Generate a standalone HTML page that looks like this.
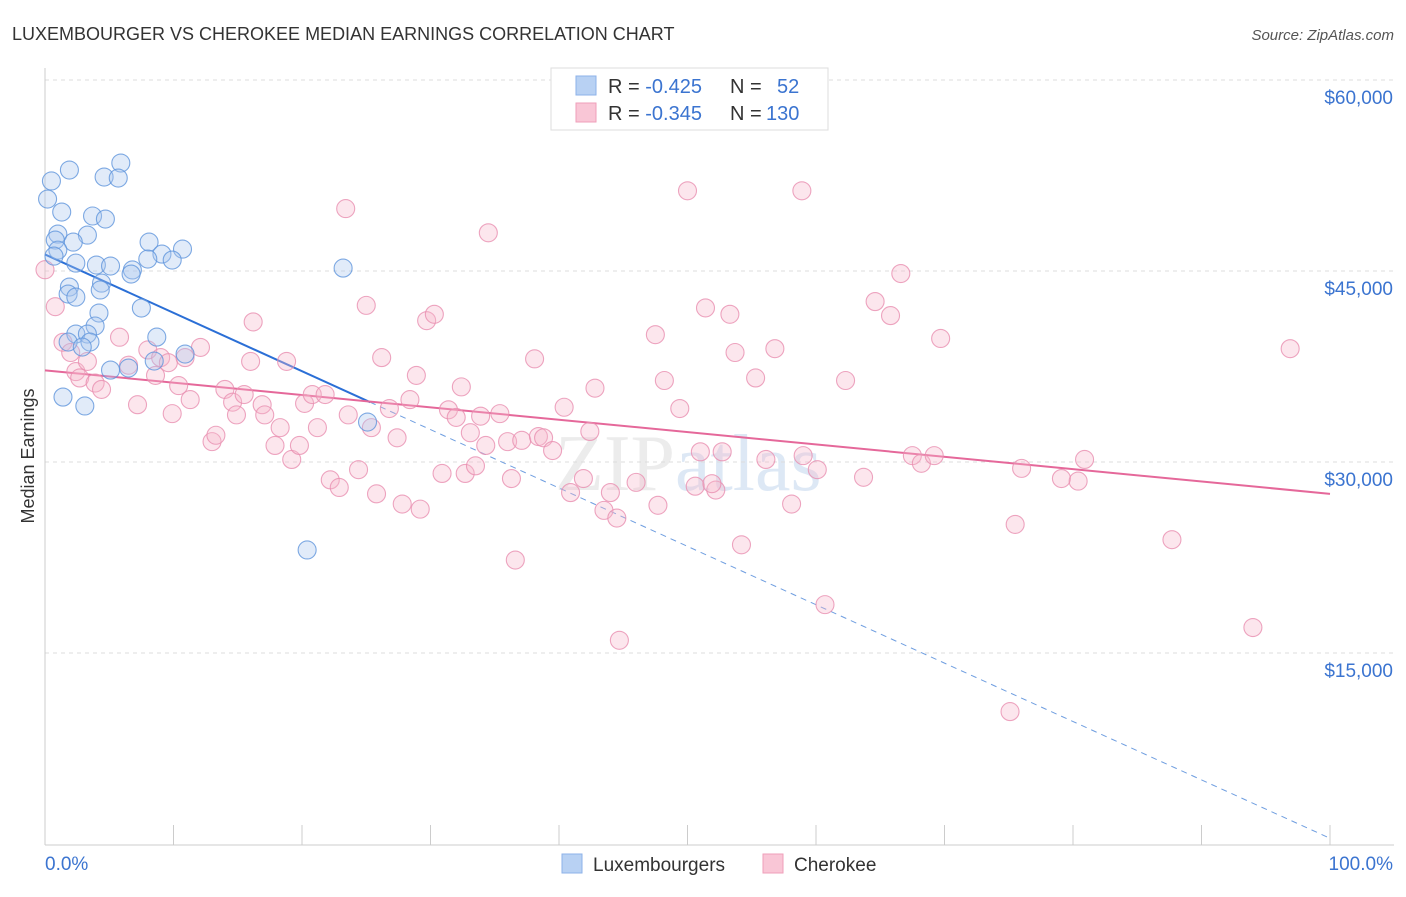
<!DOCTYPE html>
<html><head><meta charset="utf-8"><style>
body{margin:0;background:#fff;font-family:"Liberation Sans",sans-serif}
</style></head><body>
<svg id="chart" width="1406" height="892" xmlns="http://www.w3.org/2000/svg" font-family="Liberation Sans, sans-serif">
<text x="12" y="40" font-size="18" fill="#333">LUXEMBOURGER VS CHEROKEE MEDIAN EARNINGS CORRELATION CHART</text>
<text x="1394" y="40" font-size="15" fill="#555" text-anchor="end" font-style="italic">Source: ZipAtlas.com</text>
<text transform="translate(34,456) rotate(-90)" font-size="18" fill="#333" text-anchor="middle">Median Earnings</text>
<text x="555" y="490" font-size="80" fill="#ececec" font-family="Liberation Serif, serif">ZIP<tspan fill="#dde8f5">atlas</tspan></text>
<g id="grid"></g><g id="axes"></g><g id="lines"></g><g id="pts"></g>
<g>
<rect x="551" y="68" width="277" height="62" fill="#fff" stroke="#ddd"/>
<rect x="576" y="76" width="20" height="19" fill="#b8d1f3" stroke="#8db2e8"/>
<rect x="576" y="103" width="20" height="19" fill="#f9c6d6" stroke="#ef9fba"/>
<text x="608" y="93" font-size="20" fill="#333">R = <tspan fill="#3b74d0">-0.425</tspan><tspan x="730">N = </tspan><tspan x="777" fill="#3b74d0">52</tspan></text>
<text x="608" y="120" font-size="20" fill="#333">R = <tspan fill="#3b74d0">-0.345</tspan><tspan x="730">N = </tspan><tspan x="766" fill="#3b74d0">130</tspan></text>
</g>
<g>
<rect x="562" y="854" width="20" height="19" fill="#b8d1f3" stroke="#8db2e8"/>
<text x="593" y="871" font-size="19" fill="#333">Luxembourgers</text>
<rect x="763" y="854" width="20" height="19" fill="#f9c6d6" stroke="#ef9fba"/>
<text x="794" y="871" font-size="19" fill="#333">Cherokee</text>
</g>
</svg>
<script>
const yTicks=[15000,30000,45000,60000];
const yTickLabels=["$15,000","$30,000","$45,000","$60,000"];
const xTickLabels=["0.0%","100.0%"];
const luxX=[0.5,1.9,5.9,4.6,5.7,0.2,1.3,3.7,4.7,1.0,0.8,3.3,2.2,8.1,10.7,1.0,9.1,0.7,9.9,8.0,2.4,4.0,5.1,6.8,6.7,23.2,4.4,1.9,4.3,1.8,2.4,7.5,4.2,3.9,2.4,3.3,8.7,1.8,3.5,2.9,10.9,8.5,5.1,6.5,1.4,3.1,25.1,20.4];
const luxY=[52.07,52.93,53.48,52.38,52.3,50.65,49.63,49.32,49.08,47.9,47.43,47.82,47.27,47.27,46.72,46.64,46.33,46.17,45.86,45.94,45.62,45.47,45.39,45.08,44.76,45.23,44.05,43.74,43.51,43.19,42.95,42.09,41.7,40.68,40.05,40.05,39.81,39.42,39.42,39.03,38.48,37.93,37.22,37.38,35.1,34.4,33.14,23.09];
const cheX=[0,0.8,1.4,2.0,2.4,2.7,3.9,4.4,3.3,5.8,6.5,7.2,8.0,8.6,9.0,9.6,9.9,10.4,10.9,11.3,12.1,13.0,13.3,14.0,14.6,14.9,15.5,16.2,16.0,16.9,17.1,17.9,18.3,18.8,19.2,19.8,20.2,20.8,21.2,21.8,22.2,22.9,23.6,23.4,24.4,25.0,25.4,25.8,26.2,26.8,27.4,27.8,28.4,28.9,29.2,29.7,30.3,30.9,31.4,32.0,32.4,32.7,33.1,33.5,33.9,34.3,34.5,35.4,36.0,36.3,36.6,37.1,38.1,38.4,38.8,39.5,40.4,40.9,41.9,42.4,42.8,43.5,44.0,44.5,44.7,46.0,47.5,47.7,48.2,49.4,50.0,50.6,51.0,51.4,52.2,51.9,52.7,53.3,53.7,54.2,55.3,56.1,56.8,58.1,59.0,58.9,60.1,60.7,62.3,63.7,64.6,65.8,66.6,67.5,68.2,69.2,69.7,75.1,75.5,76.0,79.1,80.4,80.9,87.7,94.0,96.9];
const cheY=[45.1,42.2,39.4,38.6,37.1,36.6,36.2,35.7,37.9,39.8,37.6,34.5,38.8,36.8,38.2,37.8,33.8,36.0,38.2,34.9,39.0,31.6,32.1,35.7,34.7,33.7,35.3,41.0,37.9,34.5,33.7,31.3,32.7,37.9,30.2,31.3,34.6,35.3,32.7,35.3,28.6,28.0,33.7,49.9,29.4,42.3,32.7,27.5,38.2,34.2,31.9,26.7,34.9,36.8,26.3,41.1,41.6,29.1,34.1,33.5,35.9,29.1,32.3,29.7,33.6,31.3,48.0,33.8,31.6,28.7,22.3,31.7,38.1,32.0,31.9,30.9,34.3,27.6,28.7,32.4,35.8,26.2,27.6,25.6,16.0,28.4,40.0,26.6,36.4,34.2,51.3,28.1,30.8,42.1,27.8,28.3,30.8,41.6,38.6,23.5,36.6,30.2,38.9,26.7,30.5,51.3,29.4,18.8,36.4,28.8,42.6,41.5,44.8,30.5,29.9,30.5,39.7,10.4,25.1,29.5,28.7,28.5,30.2,23.9,17.0,38.9];
const luxTrend=[46.3,34.7,25.3];
const cheTrend=[37.2,27.5];
const NS="http://www.w3.org/2000/svg";
const sx=p=>45+p*12.85, sy=v=>844-v*191/15000;
function mk(t,a,parent){const e=document.createElementNS(NS,t);for(const k in a)e.setAttribute(k,a[k]);document.getElementById(parent).appendChild(e);return e;}
yTicks.forEach((v,i)=>{
 const l=mk('line',{x1:45,x2:1394,y1:sy(v),y2:sy(v),stroke:'#ddd','stroke-dasharray':'4,4'},'grid');
 
 
 const t=mk('text',{x:1393,y:sy(v)+24,'font-size':19,fill:'#3b74d0','text-anchor':'end'},'grid');
 t.textContent=yTickLabels[i];
 
 
});
mk('line',{x1:45,x2:45,y1:68,y2:845,stroke:'#ccc'},'axes');
mk('line',{x1:45,x2:1394,y1:845,y2:845,stroke:'#ccc'},'axes');
for(let i=0;i<=10;i++){const l=mk('line',{x1:sx(i*10),x2:sx(i*10),y1:825,y2:845,stroke:'#ccc'},'axes');
 
 }
[[0,45,'start'],[1,1393,'end']].forEach(([i,x,a])=>{const t=mk('text',{x:x,y:870,'font-size':19,fill:'#3b74d0','text-anchor':a},'axes');t.textContent=xTickLabels[i];
 
 });
function drawPts(X,Y,fill,stroke,name){X.forEach((x,i)=>{const c=mk('circle',{cx:sx(x),cy:sy(Y[i]*1000),r:9,fill:fill,'fill-opacity':0.35,stroke:stroke,'stroke-opacity':0.8,'stroke-width':1.1},'pts');
 
 });}
drawPts(cheX,cheY,'#f7b6cb','#e98fb0','cherokee-point');
drawPts(luxX,luxY,'#a9c7ef','#5f95dc','luxembourger-point');
const slope=(luxTrend[1]-luxTrend[0])/luxTrend[2];
const l1=mk('line',{x1:sx(0),y1:sy(luxTrend[0]*1000),x2:sx(luxTrend[2]),y2:sy(luxTrend[1]*1000),stroke:'#2b6fd6','stroke-width':2},'lines');


const l2=mk('line',{x1:sx(luxTrend[2]),y1:sy(luxTrend[1]*1000),x2:sx(100),y2:sy((luxTrend[0]+slope*100)*1000),stroke:'#6f9ee0','stroke-width':1,'stroke-dasharray':'6,5'},'lines');


const l3=mk('line',{x1:sx(0),y1:sy(cheTrend[0]*1000),x2:sx(100),y2:sy(cheTrend[1]*1000),stroke:'#e5689a','stroke-width':2},'lines');


</script>
</body></html>
